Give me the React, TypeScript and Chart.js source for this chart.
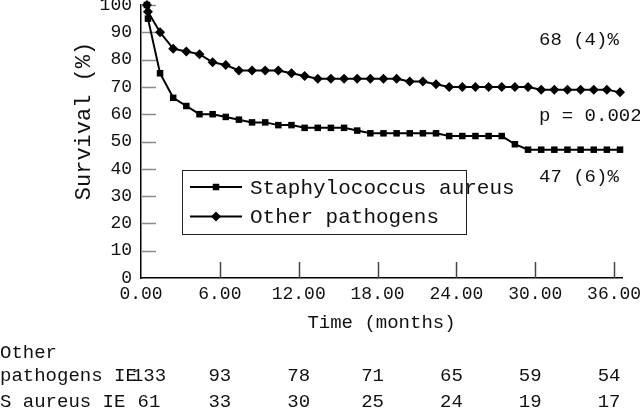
import React, { useEffect, useRef } from "react";
import { Chart, registerables } from "chart.js";

Chart.register(...registerables);

const FONT = "'Liberation Mono', 'Courier New', monospace";

// time (months) of each plotted step point
const timePoints = [
  0.45, 0.53, 1.45, 2.45, 3.45, 4.45, 5.45, 6.45, 7.45, 8.45, 9.45, 10.45, 11.45,
  12.45, 13.45, 14.45, 15.45, 16.45, 17.45, 18.45, 19.45, 20.45, 21.45, 22.45,
  23.45, 24.45, 25.45, 26.45, 27.45, 28.45, 29.45, 30.45, 31.45, 32.45, 33.45,
  34.45, 35.45, 36.45,
];

const staphSurvival = [
  100, 95, 75, 66, 63, 60, 60, 59, 58, 57, 57, 56, 56, 55, 55, 55, 55, 54, 53, 53,
  53, 53, 53, 53, 52, 52, 52, 52, 52, 49, 47, 47, 47, 47, 47, 47, 47, 47,
];

const otherSurvival = [
  100, 97.5, 90, 84, 83, 82, 79, 78, 76, 76, 76, 76, 75, 74, 73, 73, 73, 73, 73,
  73, 73, 72, 72, 71, 70, 70, 70, 70, 70, 70, 70, 69, 69, 69, 69, 69, 69, 68,
];

const seriesLabels = ["Staphylococcus aureus", "Other pathogens"];

const xTickValues = [0, 6, 12, 18, 24, 30, 36];
const yTickValues = [0, 10, 20, 30, 40, 50, 60, 70, 80, 90, 100];

const riskTimes = [0, 6, 12, 18, 24, 30, 36];
const otherAtRisk = [133, 93, 78, 71, 65, 59, 54];
const staphAtRisk = [61, 33, 30, 25, 24, 19, 17];

const annotations = ["68 (4)%", "p = 0.002", "47 (6)%"];
const yTitle = "Survival (%)";
const xTitle = "Time (months)";

function drawMarker(ctx: CanvasRenderingContext2D, style: string, x: number, y: number, r: number) {
  ctx.beginPath();
  if (style === "rect") {
    const s = Math.SQRT1_2 * r;
    ctx.rect(x - s, y - s, 2 * s, 2 * s);
  } else {
    ctx.moveTo(x - r, y);
    ctx.lineTo(x, y - r);
    ctx.lineTo(x + r, y);
    ctx.lineTo(x, y + r);
    ctx.closePath();
  }
  ctx.fill();
}

const overlayPlugin = {
  id: "overlay",
  beforeDatasetsDraw(chart: any) {
    const { ctx, chartArea, scales } = chart;
    ctx.save();
    ctx.lineWidth = 1.5;
    ctx.strokeStyle = "#8a8a8a";
    yTickValues.forEach((v) => {
      if (v === 0) return;
      const y = Math.round(scales.y.getPixelForValue(v)) + 0.5;
      ctx.beginPath();
      ctx.moveTo(chartArea.left, y);
      ctx.lineTo(chartArea.left + 15, y);
      ctx.stroke();
    });
    ctx.strokeStyle = "#444";
    xTickValues.forEach((v) => {
      if (v === 0) return;
      const x = Math.round(scales.x.getPixelForValue(v)) + 0.5;
      ctx.beginPath();
      ctx.moveTo(x, chartArea.bottom);
      ctx.lineTo(x, chartArea.bottom - 16);
      ctx.stroke();
    });
    ctx.restore();
  },
  afterDraw(chart: any) {
    const { ctx, scales } = chart;
    ctx.save();

    // y axis title (rotated)
    ctx.save();
    ctx.translate(84, 121);
    ctx.rotate(-Math.PI / 2);
    ctx.fillStyle = "#111";
    ctx.font = `22px ${FONT}`;
    ctx.textAlign = "center";
    ctx.textBaseline = "middle";
    ctx.fillText(yTitle, 0, 0);
    ctx.restore();

    // legend box (text overflows the frame, as in the original)
    ctx.strokeStyle = "#222";
    ctx.lineWidth = 1;
    ctx.strokeRect(182.5, 170.5, 284, 64);
    const rowsY = [187, 216.5];
    chart.data.datasets.forEach((ds: any, i: number) => {
      const y = rowsY[i];
      ctx.strokeStyle = "#000";
      ctx.fillStyle = "#000";
      ctx.lineWidth = 2;
      ctx.beginPath();
      ctx.moveTo(190, y);
      ctx.lineTo(242, y);
      ctx.stroke();
      drawMarker(ctx, ds.pointStyle, 216, y, ds.pointRadius);
      ctx.fillStyle = "#111";
      ctx.font = `21px ${FONT}`;
      ctx.textAlign = "left";
      ctx.textBaseline = "middle";
      ctx.fillText(ds.label, 250, y + 1);
    });

    // annotations at right
    ctx.fillStyle = "#111";
    ctx.font = `19px ${FONT}`;
    ctx.textAlign = "left";
    ctx.textBaseline = "middle";
    const annY = [40, 116, 177];
    annotations.forEach((t, i) => ctx.fillText(t, 539, annY[i]));

    // numbers at risk table
    ctx.fillText("Other", 0, 353);
    ctx.fillText("pathogens IE", 0, 376);
    ctx.fillText("S aureus IE", 0, 402);
    ctx.textAlign = "center";
    riskTimes.forEach((t, i) => {
      let x = scales.x.getPixelForValue(t);
      if (i === 0) x += 8;
      else if (i >= 3) x -= 5;
      ctx.fillText(String(otherAtRisk[i]), x, 376);
      ctx.fillText(String(staphAtRisk[i]), x, 402);
    });
    ctx.restore();
  },
};

export default function App() {
  const canvasRef = useRef<HTMLCanvasElement | null>(null);

  useEffect(() => {
    document.body.style.margin = "0";
    const canvas = canvasRef.current;
    if (!canvas) return;
    const chart = new Chart(canvas, {
      type: "line",
      data: {
        datasets: [
          {
            label: seriesLabels[0],
            data: timePoints.map((t, i) => ({ x: t, y: staphSurvival[i] })),
            borderColor: "#000",
            backgroundColor: "#000",
            borderWidth: 2,
            pointStyle: "rect",
            pointRadius: 4.6,
            pointBackgroundColor: "#000",
            pointBorderWidth: 0,
            tension: 0,
            clip: false,
            order: 1,
          },
          {
            label: seriesLabels[1],
            data: timePoints.map((t, i) => ({ x: t, y: otherSurvival[i] })),
            borderColor: "#000",
            backgroundColor: "#000",
            borderWidth: 2,
            pointStyle: "rectRot",
            pointRadius: 5,
            pointBackgroundColor: "#000",
            pointBorderWidth: 0,
            tension: 0,
            clip: false,
            order: 0,
          },
        ],
      },
      options: {
        responsive: false,
        animation: false,
        layout: { padding: { top: 5, right: 18, left: 0, bottom: 0 } },
        plugins: {
          legend: { display: false },
          tooltip: { enabled: false },
        },
        scales: {
          x: {
            type: "linear",
            min: 0,
            max: 36.6,
            afterBuildTicks: (s: any) => {
              s.ticks = xTickValues.map((v) => ({ value: v }));
            },
            afterFit: (s: any) => {
              s.height = 131;
              s.paddingLeft = 0;
              s.paddingRight = 0;
            },
            grid: { display: false, drawTicks: false },
            border: { display: true, color: "#000", width: 1.5 },
            ticks: {
              padding: 5,
              color: "#111",
              maxRotation: 0,
              autoSkip: false,
              font: { family: FONT, size: 18 },
              callback: (v: any) => Number(v).toFixed(2),
            },
            title: {
              display: true,
              text: xTitle,
              color: "#111",
              font: { family: FONT, size: 19 },
              padding: { top: 0, bottom: 75 },
            },
          },
          y: {
            min: 0,
            max: 100,
            afterBuildTicks: (s: any) => {
              s.ticks = yTickValues.map((v) => ({ value: v }));
            },
            afterFit: (s: any) => {
              s.width = 141;
              s.paddingTop = 0;
              s.paddingBottom = 0;
            },
            grid: { display: false, drawTicks: false },
            border: { display: true, color: "#000", width: 1.5 },
            ticks: {
              padding: 9,
              color: "#111",
              font: { family: FONT, size: 18 },
            },
            title: { display: false },
          },
        },
      },
      plugins: [overlayPlugin],
    } as any);
    return () => chart.destroy();
  }, []);

  return (
    <div style={{ position: "absolute", left: 0, top: 0, width: 640, height: 409, background: "#fff" }}>
      <canvas ref={canvasRef} width={640} height={409} style={{ width: 640, height: 409 }} />
    </div>
  );
}
